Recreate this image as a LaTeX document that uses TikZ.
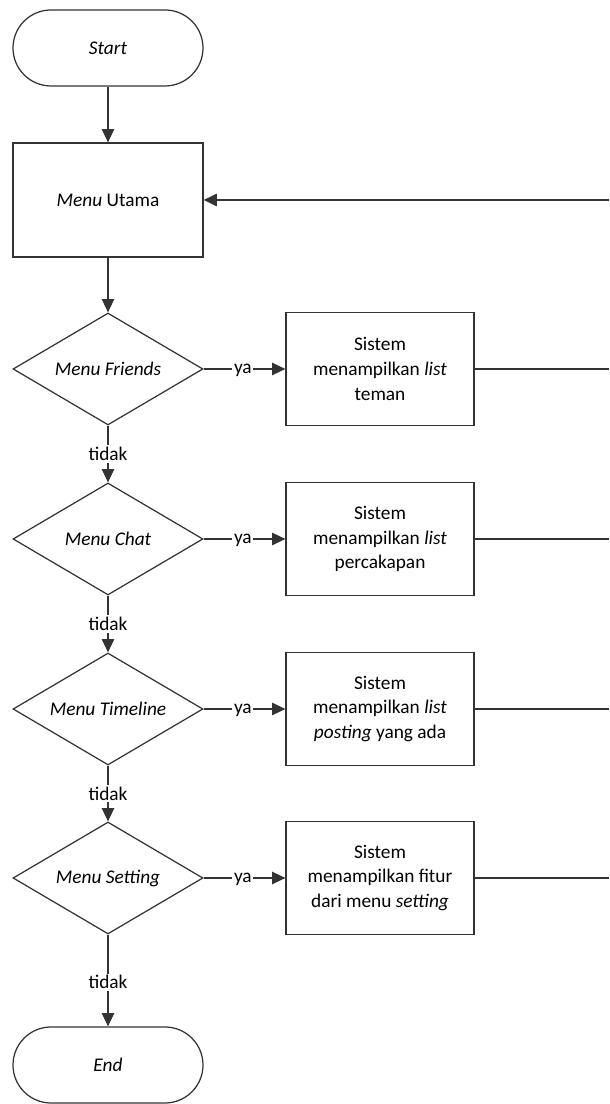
\documentclass[tikz,border=0pt]{standalone}
\usepackage{fontspec}
\setmainfont{Carlito}
\usepackage{tikz}
\usetikzlibrary{shapes.geometric,arrows.meta}

\begin{document}
\begin{tikzpicture}[font=\fontsize{11}{14}\selectfont,
  line width=0.7pt, draw=black!80,
  terminal/.style={draw, rectangle, rounded corners=0.76cm, minimum width=3.8cm, minimum height=1.52cm},
  proses/.style={draw, rectangle, minimum width=3.8cm, minimum height=2.28cm},
  keputusan/.style={draw, diamond, aspect=1.7, inner sep=0pt, minimum width=3.8cm, minimum height=2.24cm},
  sistem/.style={draw, rectangle, align=center, minimum width=3.76cm, minimum height=2.26cm},
  arr/.style={-{Triangle[length=7.5pt,width=7pt]}},
  lbl/.style={fill=white, inner sep=1pt},
  lblya/.style={fill=white, inner sep=1pt, text height=1ex, text depth=0pt}]

\useasboundingbox (0,0) rectangle (12.18,22.08);

\node[terminal] (start) at (2.16,21.12) {\textit{Start}};
\node[proses] (utama) at (2.16,18.08) {\textit{Menu} Utama};

\node[keputusan] (friends) at (2.16,14.70) {\textit{Menu Friends}};
\node[keputusan] (chat) at (2.16,11.30) {\textit{Menu Chat}};
\node[keputusan] (timeline) at (2.16,7.90) {\textit{Menu Timeline}};
\node[keputusan] (setting) at (2.16,4.52) {\textit{Menu Setting}};

\node[terminal] (end) at (2.16,0.78) {\textit{End}};

\node[sistem] (s1) at (7.60,14.70) {Sistem\\menampilkan \textit{list}\\teman};
\node[sistem] (s2) at (7.60,11.30) {Sistem\\menampilkan \textit{list}\\percakapan};
\node[sistem] (s3) at (7.60,7.90) {Sistem\\menampilkan \textit{list}\\\textit{posting} yang ada};
\node[sistem] (s4) at (7.60,4.52) {Sistem\\menampilkan fitur\\dari menu \textit{setting}};

% garis balik di tepi kanan
\coordinate (kanan) at (12.18,18.08);

\draw[arr] (start) -- (utama);
\draw[arr] (utama) -- (friends);
\draw[arr] (friends) -- node[lbl, pos=0.5] {tidak} (chat);
\draw[arr] (chat) -- node[lbl, pos=0.5] {tidak} (timeline);
\draw[arr] (timeline) -- node[lbl, pos=0.5] {tidak} (setting);
\draw[arr] (setting) -- node[lbl, pos=0.52] {tidak} (end);

\draw[arr] (friends) -- node[lblya, pos=0.48] {ya} (s1);
\draw[arr] (chat) -- node[lblya, pos=0.48] {ya} (s2);
\draw[arr] (timeline) -- node[lblya, pos=0.48] {ya} (s3);
\draw[arr] (setting) -- node[lblya, pos=0.48] {ya} (s4);

\draw (s1) -- (s1 -| kanan);
\draw (s2) -- (s2 -| kanan);
\draw (s3) -- (s3 -| kanan);
\draw (s4) -- (s4 -| kanan);

\draw[arr, line width=1.2pt] (kanan) -- (utama);
\end{tikzpicture}
\end{document}
